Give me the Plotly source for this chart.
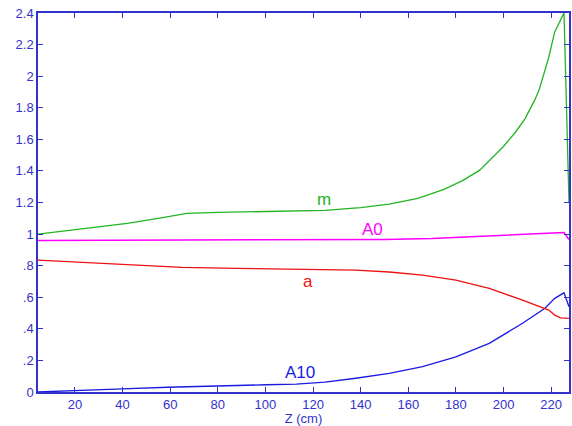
import plotly.graph_objects as go

# m curve
z_m = [4.5, 20, 42, 55, 67, 80, 100, 125, 140, 152, 164, 175, 183, 190, 200, 205, 209, 213, 215, 219, 221.5, 223, 225.4, 227.5]
v_m = [1.0, 1.028, 1.068, 1.10, 1.131, 1.137, 1.143, 1.15, 1.168, 1.19, 1.226, 1.283, 1.34, 1.405, 1.555, 1.645, 1.73, 1.845, 1.915, 2.12, 2.28, 2.33, 2.4, 1.2]

# A0 curve
z_a0 = [4.5, 50, 100, 150, 170, 190, 210, 225.4, 227.5]
v_a0 = [0.96, 0.962, 0.963, 0.966, 0.972, 0.985, 0.998, 1.01, 0.965]

# a curve
z_a = [4.5, 30, 50, 65, 88, 113, 138, 152, 166, 180, 194, 208, 215, 219, 221.5, 224, 227.5]
v_a = [0.835, 0.815, 0.80, 0.789, 0.783, 0.778, 0.772, 0.76, 0.74, 0.709, 0.656, 0.582, 0.545, 0.519, 0.487, 0.47, 0.466]

# A10 curve
z_a10 = [4.5, 20, 40, 59, 80, 100, 113, 125, 138, 152, 166, 180, 194, 208, 217.4, 221.5, 225.4, 227.5]
v_a10 = [0.0, 0.01, 0.02, 0.03, 0.04, 0.046, 0.05, 0.062, 0.087, 0.118, 0.16, 0.223, 0.308, 0.435, 0.53, 0.593, 0.628, 0.54]

x_ticks = [20, 40, 60, 80, 100, 120, 140, 160, 180, 200, 220]
y_ticks = [0, 0.2, 0.4, 0.6, 0.8, 1.0, 1.2, 1.4, 1.6, 1.8, 2.0, 2.2, 2.4]
y_ticktext = ["0", ".2", ".4", ".6", ".8", "1", "1.2", "1.4", "1.6", "1.8", "2", "2.2", "2.4"]

labels = [("m", 124.6, 1.22, "#22b422"), ("A0", 145, 1.03, "#ff00ff"),
          ("a", 118, 0.70, "#ee1111"), ("A10", 114.4, 0.122, "#1a1ae0")]

axis_col = "#3333cc"

fig = go.Figure()
fig.add_trace(go.Scatter(x=z_a10, y=v_a10, mode="lines", line=dict(color="#1a1ae0", width=1.3)))
fig.add_trace(go.Scatter(x=z_a, y=v_a, mode="lines", line=dict(color="#ee1111", width=1.3)))
fig.add_trace(go.Scatter(x=z_a0, y=v_a0, mode="lines", line=dict(color="#ff00ff", width=1.5)))
fig.add_trace(go.Scatter(x=z_m, y=v_m, mode="lines", line=dict(color="#22b422", width=1.3)))

for txt, x, y, c in labels:
    fig.add_annotation(x=x, y=y, text=txt, showarrow=False,
                       font=dict(family="Liberation Sans, Arial", size=17, color=c))

fig.update_layout(
    width=572, height=426,
    margin=dict(l=38, r=1, t=13, b=34),
    paper_bgcolor="white", plot_bgcolor="white",
    showlegend=False,
    font=dict(family="Liberation Sans, Arial", size=13, color=axis_col),
    xaxis=dict(range=[4.5, 227.5], tickvals=x_ticks, ticks="inside", ticklen=5,
               tickcolor=axis_col, showline=True, linecolor=axis_col, linewidth=1.5,
               mirror="ticks", showgrid=False, zeroline=False,
               title=dict(text="Z (cm)", font=dict(size=13, color=axis_col), standoff=2),
               tickfont=dict(size=13, color=axis_col)),
    yaxis=dict(range=[0, 2.4], tickvals=y_ticks, ticktext=y_ticktext, ticks="inside", ticklen=5,
               tickcolor=axis_col, showline=True, linecolor=axis_col, linewidth=1.5,
               mirror="ticks", showgrid=False, zeroline=False,
               tickfont=dict(size=13, color=axis_col)),
)

fig.write_html("out.html", config={"displayModeBar": False},
               post_script="document.body.style.margin='0';document.body.style.overflow='hidden';")
